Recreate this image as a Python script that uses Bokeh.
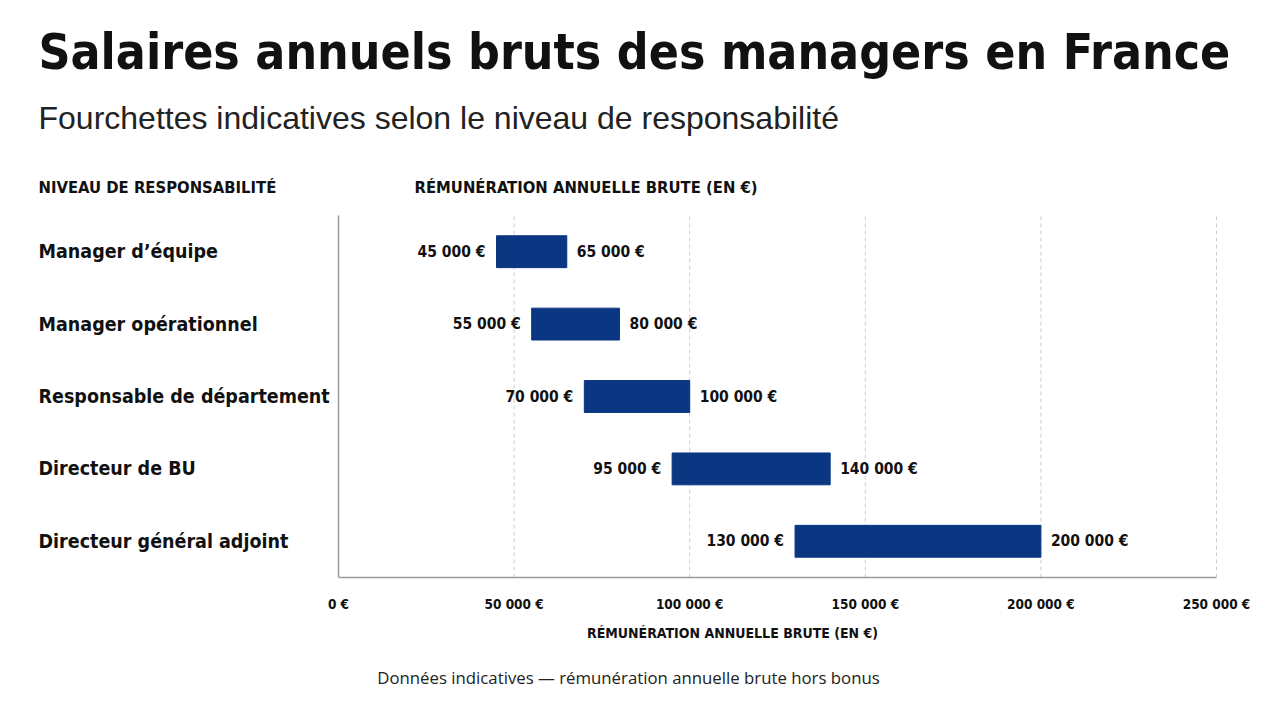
from bokeh.plotting import figure
from bokeh.layouts import column
from bokeh.models import ColumnDataSource, LabelSet, Label, Range1d, FixedTicker
from bokeh.core.properties import value
from bokeh.embed import file_html
from bokeh.resources import INLINE

# ---- data ----
levels = ["Manager d’équipe", "Manager opérationnel", "Responsable de département",
          "Directeur de BU", "Directeur général adjoint"]
salary_min = [45000, 55000, 70000, 95000, 130000]
salary_max = [65000, 80000, 100000, 140000, 200000]
tick_values = [0, 50000, 100000, 150000, 200000, 250000]
tick_labels = ["0 €", "50 000 €", "100 000 €", "150 000 €", "200 000 €", "250 000 €"]

title_txt = "Salaires annuels bruts des managers en France"
subtitle_txt = "Fourchettes indicatives selon le niveau de responsabilité"
head_left = "NIVEAU DE RESPONSABILITÉ"
head_right = "RÉMUNÉRATION ANNUELLE BRUTE (EN €)"
axis_title = "RÉMUNÉRATION ANNUELLE BRUTE (EN €)"
footer_txt = "Données indicatives — rémunération annuelle brute hors bonus"


def euro(v):
    return f"{v:,}".replace(",", "\u00a0") + "\u00a0€"


# ---- layout constants (pixels) ----
W, H = 1280, 702
PX0, PX1 = 338, 1216          # pixel of first / last tick
FRAME_B = 577                 # bottom of plotting frame
AXIS_H = 40                   # height of x-axis panel
BAND = 72.4                   # height of one category band
MAIN_H = FRAME_B + AXIS_H
FOOT_H = H - MAIN_H

COND = "DejaVu Sans Condensed"
INK = "#111111"
BAR = "#0A3682"
GRID = "#cdcdcd"
AXIS = "#9a9a9a"

n = len(levels)
k = (tick_values[-1] - tick_values[0]) / (PX1 - PX0)   # data units per pixel


def dx(X):
    return tick_values[0] + (X - PX0) * k


def dy(Y):
    return -0.5 + (FRAME_B - Y) / BAND


src = ColumnDataSource(dict(
    level=levels,
    ypos=[n - 1 - i for i in range(n)],
    lo=salary_min, hi=salary_max,
    lo_txt=[euro(v) for v in salary_min], hi_txt=[euro(v) for v in salary_max],
))

p = figure(width=W, height=MAIN_H, output_backend="svg", toolbar_location=None,
           x_range=Range1d(dx(0), dx(W)), y_range=Range1d(dy(FRAME_B), dy(0)),
           y_axis_location=None,
           min_border_left=0, min_border_right=0, min_border_top=0,
           min_border_bottom=AXIS_H)
p.outline_line_color = None
p.background_fill_color = "white"
p.border_fill_color = "white"
p.xgrid.visible = False
p.ygrid.visible = False

# x axis (library axis, bounded to the value range)
p.xaxis.ticker = FixedTicker(ticks=tick_values)
p.xaxis.bounds = (tick_values[0], tick_values[-1])
p.xaxis.major_label_overrides = {v: t for v, t in zip(tick_values, tick_labels)}
p.xaxis.major_tick_line_color = None
p.xaxis.minor_tick_line_color = None
p.xaxis.axis_line_color = AXIS
p.xaxis.axis_line_width = 1.5
p.xaxis.major_label_standoff = 12
p.xaxis.major_label_text_font = COND
p.xaxis.major_label_text_font_style = "bold"
p.xaxis.major_label_text_font_size = "13.5px"
p.xaxis.major_label_text_color = INK

# dashed vertical grid lines over the bar area, from tick values
grid_src = ColumnDataSource(dict(x=tick_values[1:]))
p.segment(x0="x", x1="x", y0=-0.5, y1=n - 0.5, source=grid_src,
          line_color=GRID, line_dash="4 3", line_width=1)
# left axis line
p.segment(x0=tick_values[0], x1=tick_values[0], y0=-0.5, y1=n - 0.5,
          line_color=AXIS, line_width=1.5)

# bars
p.hbar(y="ypos", left="lo", right="hi", height=0.44, source=src,
       fill_color=BAR, line_color=BAR)

p.add_layout(LabelSet(x="lo", y="ypos", text="lo_txt", source=src, x_offset=-11,
                      text_align="right", text_baseline="middle", text_font=value(COND),
                      text_font_style="bold", text_font_size="15.5px", text_color=INK))
p.add_layout(LabelSet(x="hi", y="ypos", text="hi_txt", source=src, x_offset=10,
                      text_align="left", text_baseline="middle", text_font=value(COND),
                      text_font_style="bold", text_font_size="15.5px", text_color=INK))

# category labels column
p.add_layout(LabelSet(x=dx(38), y="ypos", text="level", source=src,
                      text_align="left", text_baseline="middle", text_font=value(COND),
                      text_font_style="bold", text_font_size="19.5px", text_color=INK))


def lab(fig, text, x, y, size, font=COND, style="bold", align="left", color=INK):
    fig.add_layout(Label(x=x, y=y, text=text,
                         text_align=align, text_baseline="middle", text_font=font,
                         text_font_style=style, text_font_size=size, text_color=color))


lab(p, title_txt, dx(38), dy(51), "49.5px")
lab(p, subtitle_txt, dx(38), dy(117), "32px", font="Liberation Sans",
    style="normal", color="#222222")
lab(p, head_left, dx(38), dy(187), "16.5px")
lab(p, head_right, dx(414), dy(187), "16.5px")

# footer strip (axis title + note)
f = figure(width=W, height=FOOT_H, output_backend="svg", toolbar_location=None,
           x_range=Range1d(0, W), y_range=Range1d(H, MAIN_H),
           x_axis_location=None, y_axis_location=None,
           min_border_left=0, min_border_right=0, min_border_top=0, min_border_bottom=0)
f.outline_line_color = None
f.xgrid.visible = False
f.ygrid.visible = False
f.background_fill_color = "white"
f.border_fill_color = "white"

lab(f, axis_title, 732, 632, "14px", align="center")
lab(f, footer_txt, 628, 677, "16.8px", font="Open Sans", style="normal",
    align="center", color="#222222")

layout = column(p, f, spacing=0)
open("out.html", "w").write(file_html(layout, INLINE))
